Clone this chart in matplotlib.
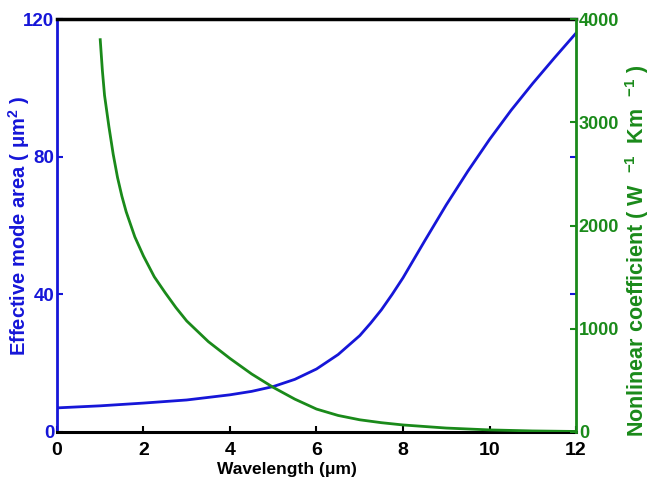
import matplotlib
matplotlib.use("Agg")
import matplotlib.pyplot as plt

plt.rcParams['font.family'] = ['Liberation Sans', 'DejaVu Sans']
plt.rcParams['font.weight'] = 'bold'
plt.rcParams['mathtext.default'] = 'regular'

BLUE = '#1616d8'
GREEN = '#1a8a1a'

# Effective mode area (um^2) versus wavelength (um)
area_wl = [0, 1, 2, 3, 4, 4.5, 5, 5.5, 6, 6.5, 7, 7.25, 7.5, 7.75, 8, 8.5, 9,
           9.5, 10, 10.5, 11, 11.5, 12]
area_val = [7.0, 7.6, 8.4, 9.3, 10.8, 11.8, 13.2, 15.3, 18.3, 22.5, 28.0, 31.6,
            35.5, 40.0, 44.8, 55.5, 66.0, 75.8, 85.0, 93.5, 101.3, 108.7, 115.9]

# Nonlinear coefficient (W^-1 km^-1) versus wavelength (um)
gamma_wl = [1.0, 1.05, 1.1, 1.2, 1.3, 1.4, 1.5, 1.6, 1.8, 2.0, 2.25, 2.5, 2.75,
            3.0, 3.5, 4.0, 4.5, 5.0, 5.5, 6.0, 6.5, 7.0, 7.5, 8.0, 9.0, 10.0,
            11.0, 12.0]
gamma_val = [3800, 3500, 3260, 2960, 2690, 2465, 2285, 2133, 1890, 1704, 1503,
             1350, 1205, 1075, 875, 712, 562, 432, 318, 222, 160, 118, 90, 68,
             38, 20, 10, 5]

x_ticks = [0, 2, 4, 6, 8, 10, 12]
left_ticks = [0, 40, 80, 120]
right_ticks = [0, 1000, 2000, 3000, 4000]

fig = plt.figure(figsize=(6.64, 4.88), dpi=100)
ax = fig.add_axes([0.0858, 0.1148, 0.7817, 0.8462])
ax2 = ax.twinx()

ax.plot(area_wl, area_val, color=BLUE, lw=2.0, zorder=3)
ax2.plot(gamma_wl, gamma_val, color=GREEN, lw=2.0, zorder=3)

ax.set_xlim(0, 12)
ax.set_ylim(0, 120)
ax2.set_ylim(0, 4000)

ax.set_xticks(x_ticks)
ax.set_yticks(left_ticks)
ax2.set_yticks(right_ticks)

ax.tick_params(axis='x', direction='in', length=4, width=1.5, colors='black',
               labelsize=14, pad=7)
ax.tick_params(axis='y', direction='in', length=4, width=1.5, colors=BLUE,
               labelsize=13.5, pad=2, right=True)
ax2.tick_params(axis='y', direction='in', length=4, width=1.5, colors=GREEN,
                labelsize=13, pad=2)

ax.spines['right'].set_visible(False)
ax.spines['left'].set_color(BLUE)
ax.spines['left'].set_linewidth(2.0)
ax.spines['bottom'].set_color('black')
ax.spines['bottom'].set_linewidth(2.2)
ax.spines['top'].set_color('black')
ax.spines['top'].set_linewidth(2.5)
for s in ('left', 'top', 'bottom'):
    ax2.spines[s].set_visible(False)
ax2.spines['right'].set_color(GREEN)
ax2.spines['right'].set_linewidth(2.0)

ax.set_xlabel('Wavelength (\u03bcm)', fontsize=12.5, fontweight='bold')
ax.xaxis.set_label_coords(0.443, -0.092)
ax.xaxis.label.set_va('center')

ax.set_ylabel('Effective mode area ( \u03bcm$^{2}$ )', fontsize=14.5,
              fontweight='bold', color=BLUE, va='center', ha='center')
ax.yaxis.set_label_coords(-0.074, 0.5)

ax2.set_ylabel('Nonlinear coefficient ( W  $^{-1}$  Km  $^{-1}$ )', fontsize=15.5,
               fontweight='bold', color=GREEN, va='center', ha='center')
ax2.yaxis.set_label_coords(1.118, 0.44)

fig.savefig('out.png', dpi=100)
